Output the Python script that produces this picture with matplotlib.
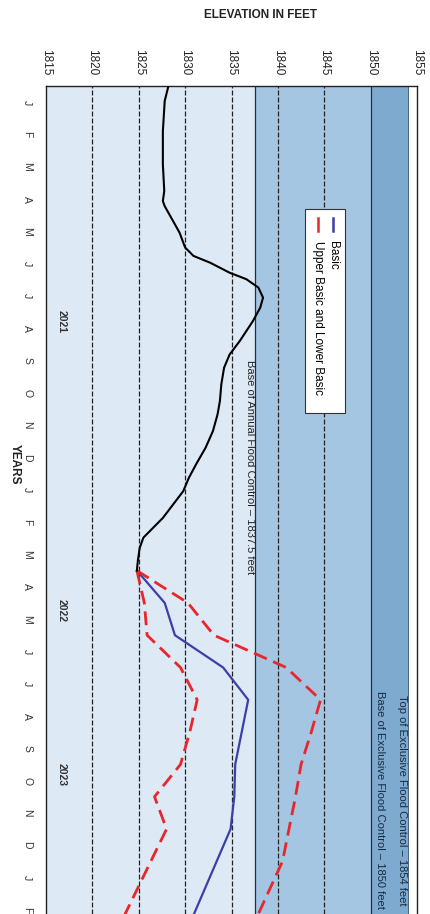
import matplotlib as mpl
import matplotlib.pyplot as plt
from matplotlib.patches import Rectangle

mpl.rcParams.update({
    "font.family": ["Liberation Sans", "DejaVu Sans"],
})

# elevation axis (horizontal once rotated) and time axis (months since Jan 2021)
ELEV_TICKS = [1815, 1820, 1825, 1830, 1835, 1840, 1845, 1850, 1855]
GRID_DASHED = [1820, 1825, 1830, 1835, 1840, 1845]
MONTH_LABELS = ["J", "F", "M", "A", "M", "J", "J", "A", "S", "O", "N", "D",
                "J", "F", "M", "A", "M", "J", "J", "A", "S", "O", "N", "D",
                "J", "F"]
YEAR_LABELS = ["2021", "2022", "2023"]
YEAR_POS = [7.28, 16.25, 21.3]

BASE_ANNUAL = 1837.5
BASE_EXCLUSIVE = 1850
TOP_EXCLUSIVE = 1854

# observed pool elevation
hist_month = [0.0, 0.46, 1.4, 2.42, 3.25, 3.56, 3.72, 4.18, 4.54, 5.0, 5.26,
              5.47, 5.78, 5.98, 6.24, 6.55, 6.86, 7.28, 7.89, 8.31, 8.72,
              9.24, 9.75, 10.16, 10.68, 11.2, 11.7, 12.13, 12.54, 13.37,
              13.98, 14.3, 14.7, 15.0]
hist_elev = [1828.2, 1827.8, 1827.6, 1827.6, 1827.75, 1827.6, 1827.8, 1828.7,
             1829.4, 1830.0, 1830.9, 1832.7, 1834.8, 1836.6, 1837.9, 1838.4,
             1838.1, 1837.3, 1835.9, 1834.8, 1834.2, 1833.9, 1833.75, 1833.5,
             1833.0, 1832.2, 1831.2, 1830.4, 1829.8, 1827.6, 1825.5, 1825.1,
             1824.9, 1824.8]

# projections, end of month
proj_month = [15, 16, 17, 18, 19, 20, 21, 22, 23, 24, 25, 26]
basic_elev = [1824.8, 1827.8, 1828.9, 1834.1, 1836.8, 1836.1, 1835.4, 1835.3,
              1834.9, 1833.4, 1831.9, 1830.4]
upper_elev = [1824.8, 1830.3, 1833.1, 1840.9, 1844.6, 1843.6, 1842.5, 1841.9,
              1841.2, 1840.5, 1838.9, 1837.3]
lower_elev = [1824.8, 1825.6, 1825.9, 1829.5, 1831.3, 1830.5, 1829.5, 1826.7,
              1828.0, 1826.3, 1824.6, 1822.9]

LIGHT = "#dde9f5"
MID = "#a4c6e3"
DARK = "#7eaad0"
BLUE = "#3b3fa6"
RED = "#e8262b"

W, H = 430, 914
fig = plt.figure(figsize=(W / 100, H / 100), dpi=100)
ax = fig.add_axes([46 / W, 0, (417 - 46) / W, (H - 86) / H])

ax.axvspan(1815, BASE_ANNUAL, color=LIGHT, lw=0, zorder=0)
ax.axvspan(BASE_ANNUAL, BASE_EXCLUSIVE, color=MID, lw=0, zorder=0)
ax.axvspan(BASE_EXCLUSIVE, TOP_EXCLUSIVE, color=DARK, lw=0, zorder=0)

for e in GRID_DASHED:
    ax.axvline(e, color="#222222", lw=0.9, ls=(0, (4, 1.6)), zorder=1)
for e in (BASE_ANNUAL, BASE_EXCLUSIVE):
    ax.axvline(e, color="#1f2f40", lw=0.9, zorder=1)
ax.axvline(TOP_EXCLUSIVE, color="#2a4a6a", lw=0.6, zorder=1)

ax.plot(hist_elev, hist_month, color="black", lw=1.5, zorder=4)
ax.plot(basic_elev, proj_month, color=BLUE, lw=1.6, zorder=3)
ax.plot(upper_elev, proj_month, color=RED, lw=2.0, ls=(0, (5, 2.5)), zorder=3)
ax.plot(lower_elev, proj_month, color=RED, lw=2.0, ls=(0, (5, 2.5)), zorder=3)

ax.set_xlim(1815, 1855)
ax.set_ylim(25.63, 0)

ax.xaxis.tick_top()
ax.set_xticks(ELEV_TICKS)
ax.set_xticklabels([str(v) for v in ELEV_TICKS], rotation=270, fontsize=8.5,
                   color="#222222", va="bottom")
ax.tick_params(axis="x", length=0, pad=8)

ax.set_yticks([i + 0.5 for i in range(len(MONTH_LABELS))])
ax.set_yticklabels(MONTH_LABELS, rotation=270, fontsize=7.5, color="#333333",
                   va="center")
ax.tick_params(axis="y", length=0, pad=10)

for s in ("left", "top", "right"):
    ax.spines[s].set_color("#222222")
    ax.spines[s].set_linewidth(1.0)
ax.spines["bottom"].set_visible(False)

for lab, t in zip(YEAR_LABELS, YEAR_POS):
    ax.text(1816.7, t, lab, rotation=270, fontsize=7.5, fontweight="bold",
            ha="center", va="center", color="#333333")

ax.text(1837.0, 11.8, "Base of Annual Flood Control \u2013 1837.5 feet",
        rotation=270, fontsize=8, ha="center", va="center", color="#222222")
ax.text(1851.0, 22.1, "Base of Exclusive Flood Control \u2013 1850 feet",
        rotation=270, fontsize=8, ha="center", va="center", color="#1a2a3a")
ax.text(1853.4, 22.1, "Top of Exclusive Flood Control \u2013 1854 feet",
        rotation=270, fontsize=8, ha="center", va="center", color="#1a2a3a")

# legend drawn by hand so it can sit rotated like the rest of the page
ax.add_patch(Rectangle((1842.9, 3.81), 4.3, 6.31, facecolor="white",
                       edgecolor="#333333", lw=0.8, zorder=5))
ax.plot([1845.9, 1845.9], [4.09, 4.49], color=BLUE, lw=1.8, zorder=6)
ax.plot([1844.3, 1844.3], [4.09, 4.49], color=RED, lw=1.8, zorder=6)
ax.text(1845.9, 4.8, "Basic", rotation=270, fontsize=8.5, ha="center",
        va="top", zorder=6)
ax.text(1844.3, 4.8, "Upper Basic and Lower Basic", rotation=270, fontsize=8.5,
        ha="center", va="top", zorder=6)

fig.text(260 / W, 1 - 15 / H, "ELEVATION IN FEET", fontsize=8.5,
         fontweight="bold", ha="center", va="center", color="#222222")
fig.text(15 / W, 1 - 464 / H, "YEARS", rotation=270, fontsize=8.5,
         fontweight="bold", ha="center", va="center", color="#222222")

fig.savefig("out.png", dpi=100)
